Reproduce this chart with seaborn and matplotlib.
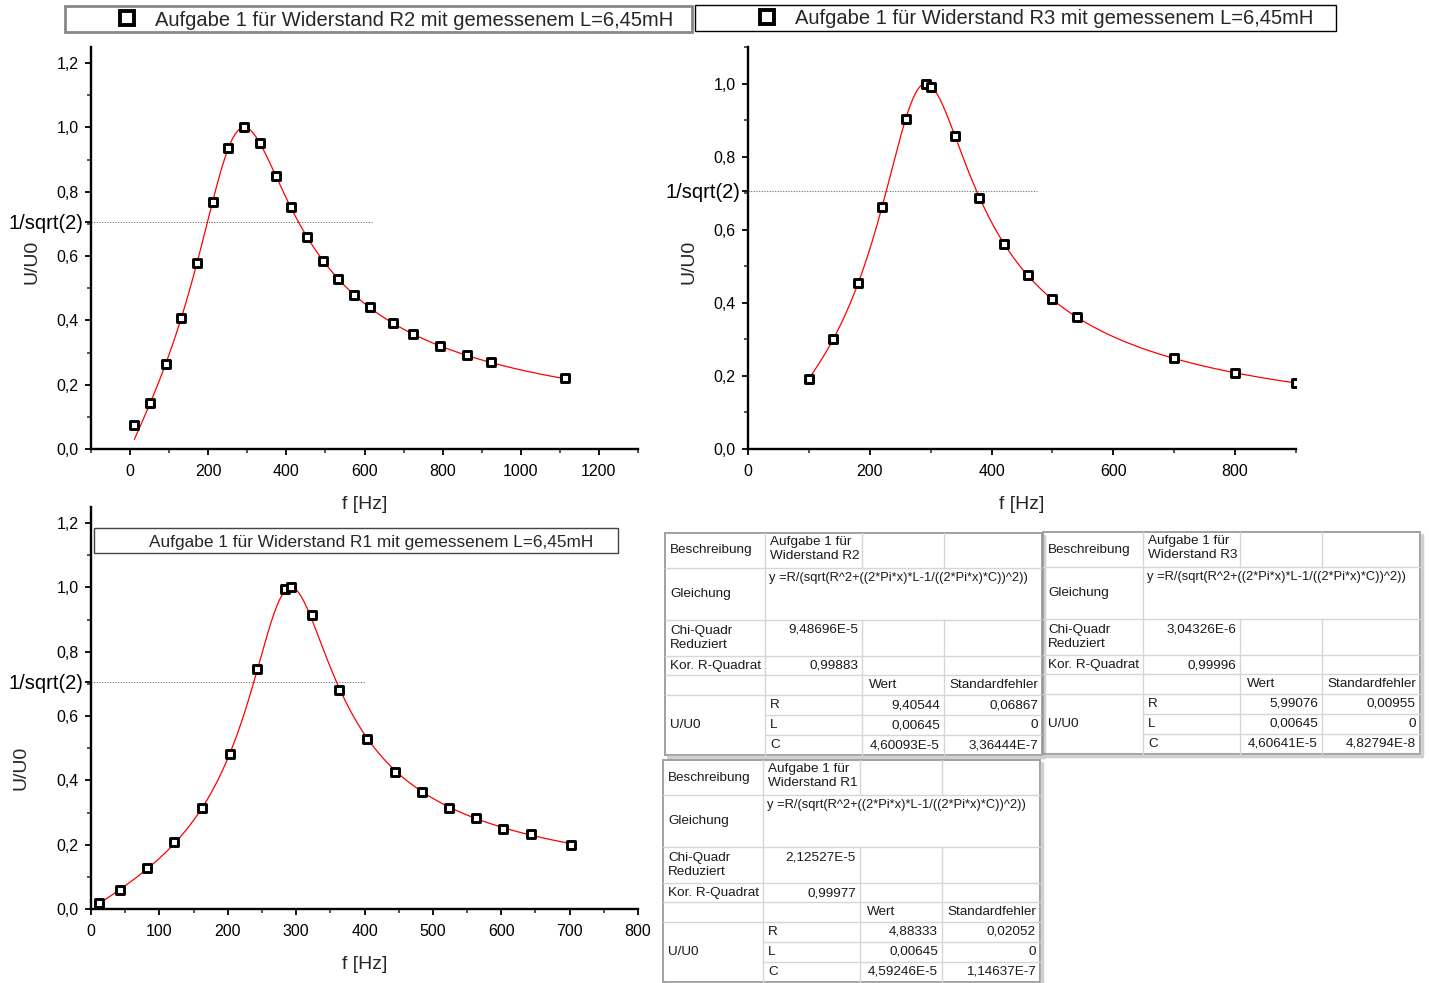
import numpy as np
import pandas as pd
import matplotlib
matplotlib.use("Agg")
import matplotlib.pyplot as plt
import matplotlib.ticker as mticker
from matplotlib.lines import Line2D
from matplotlib.patches import Rectangle
import seaborn as sns

f_r2 = [11, 51, 91, 131, 171, 211, 251, 292, 333, 373, 413, 453, 493, 533, 573, 613, 673, 723, 793, 863, 923, 1113]
u_r2 = [0.075, 0.143, 0.264, 0.407, 0.578, 0.767, 0.936, 1.0, 0.950, 0.849, 0.752, 0.658, 0.586, 0.528,
        0.480, 0.440, 0.391, 0.359, 0.320, 0.291, 0.270, 0.220]

f_r3 = [100, 140, 180, 220, 260, 292, 300, 340, 380, 420, 460, 500, 540, 700, 800, 900]
u_r3 = [0.192, 0.300, 0.453, 0.662, 0.904, 1.0, 0.991, 0.857, 0.687, 0.561, 0.475, 0.410, 0.362, 0.249, 0.209, 0.180]

f_r1 = [12, 42, 82, 122, 163, 203, 243, 283, 292, 323, 363, 404, 444, 484, 523, 563, 603, 643, 702]
u_r1 = [0.018, 0.060, 0.126, 0.208, 0.315, 0.481, 0.746, 0.994, 1.0, 0.914, 0.682, 0.528, 0.427, 0.363,
        0.315, 0.283, 0.249, 0.232, 0.199]

# fit results from the tables (R2, R3, R1)
fit_R = [9.40544, 5.99076, 4.88333]
fit_L = 0.00645
fit_C = [4.60093e-5, 4.60641e-5, 4.59246e-5]

plot_titles = ["Aufgabe 1 für Widerstand R2 mit gemessenem L=6,45mH",
               "Aufgabe 1 für Widerstand R3 mit gemessenem L=6,45mH",
               "Aufgabe 1 für Widerstand R1 mit gemessenem L=6,45mH"]

tab_names = ["Aufgabe 1 für\nWiderstand R2", "Aufgabe 1 für\nWiderstand R3", "Aufgabe 1 für\nWiderstand R1"]
tab_chi2 = ["9,48696E-5", "3,04326E-6", "2,12527E-5"]
tab_adjr2 = ["0,99883", "0,99996", "0,99977"]
tab_R = ["9,40544", "5,99076", "4,88333"]
tab_R_err = ["0,06867", "0,00955", "0,02052"]
tab_L = ["0,00645", "0,00645", "0,00645"]
tab_L_err = ["0", "0", "0"]
tab_C = ["4,60093E-5", "4,60641E-5", "4,59246E-5"]
tab_C_err = ["3,36444E-7", "4,82794E-8", "1,14637E-7"]
equation = "y =R/(sqrt(R^2+((2*Pi*x)*L-1/((2*Pi*x)*C))^2))"

sns.set_style("ticks")
plt.rcParams['font.family'] = ['Liberation Sans', 'DejaVu Sans']

W, H = 1429, 983
fig = plt.figure(figsize=(W / 100, H / 100), dpi=100)


def px_axes(left, top, right, bottom):
    return fig.add_axes([left / W, 1 - bottom / H, (right - left) / W, (bottom - top) / H])


def resonance(f, R, L, C):
    w = 2 * np.pi * f
    return R / np.sqrt(R ** 2 + (w * L - 1 / (w * C)) ** 2)


def comma(v, pos=None):
    return f"{v:.1f}".replace(".", ",")


inv_sqrt2 = 1 / np.sqrt(2)

panels = [
    # axes box px, xlim, ylim, x major, x minor, data, fit index, end of dotted line, label pos
    dict(box=(91, 47, 638, 449), xlim=(-100, 1300), ylim=(0, 1.25), xmaj=200, xmin=100,
         f=f_r2, u=u_r2, k=0, line_end=620, ylab=(-0.092, 0.465)),
    dict(box=(748, 47, 1296, 449), xlim=(0, 900), ylim=(0, 1.1), xmaj=200, xmin=100,
         f=f_r3, u=u_r3, k=1, line_end=475, ylab=(-0.092, 0.465)),
    dict(box=(91, 507, 638, 909), xlim=(0, 800), ylim=(0, 1.25), xmaj=100, xmin=50,
         f=f_r1, u=u_r1, k=2, line_end=400, ylab=(-0.112, 0.35)),
]

for p in panels:
    ax = px_axes(*p["box"])
    ax.set_facecolor("none")
    k = p["k"]
    fx = np.linspace(p["f"][0], p["f"][-1], 800)
    fit_df = pd.DataFrame({"f": fx, "u": resonance(fx, fit_R[k], fit_L, fit_C[k])})
    sns.lineplot(data=fit_df, x="f", y="u", color="red", linewidth=0.9, ax=ax, zorder=2)
    sns.scatterplot(x=p["f"], y=p["u"], marker="s", s=28, color="white", edgecolor="black",
                    linewidth=2.1, ax=ax, zorder=3)
    ax.hlines(inv_sqrt2, p["xlim"][0], p["line_end"], colors="#666666",
              linestyles=(0, (1, 1.4)), linewidth=0.8, zorder=1)
    ax.set_xlim(*p["xlim"])
    ax.set_ylim(*p["ylim"])
    sns.despine(ax=ax)
    for s in ("left", "bottom"):
        ax.spines[s].set_linewidth(1.7)
        ax.spines[s].set_color("black")

    yt = list(np.arange(0, p["ylim"][1] + 0.001, 0.2)) + [inv_sqrt2]
    yt.sort()
    ax.set_yticks(yt)
    ax.set_yticklabels(["1/sqrt(2)" if abs(v - inv_sqrt2) < 1e-6 else comma(v) for v in yt])
    ax.yaxis.set_minor_locator(mticker.MultipleLocator(0.1))
    ax.xaxis.set_major_locator(mticker.MultipleLocator(p["xmaj"]))
    ax.xaxis.set_minor_locator(mticker.MultipleLocator(p["xmin"]))
    ax.xaxis.set_major_formatter(mticker.FuncFormatter(lambda v, pos: f"{v:.0f}"))
    ax.tick_params(which="major", direction="out", length=4, width=1.3, labelsize=11.5, pad=5,
                   colors="black")
    ax.tick_params(axis="x", which="major", pad=7)
    ax.tick_params(which="minor", direction="out", length=3, width=1.1)
    for tick in ax.yaxis.get_major_ticks():
        if tick.label1.get_text() == "1/sqrt(2)":
            tick.label1.set_fontsize(14.5)
            tick.set_pad(1.5)

    ax.set_xlabel("f [Hz]", fontsize=14)
    ax.set_ylabel("U/U0", fontsize=14)
    ax.xaxis.set_label_coords(0.5, -0.118)
    ax.yaxis.set_label_coords(*p["ylab"])

# legend boxes above the two top panels
legend_boxes = [(65, 6, 692, 32, 395, "#888888", 2.0), (695, 5, 1336, 31, 1035, "black", 1.0)]
for i, (x0, y0, x1, y1, cx, ec, lw) in enumerate(legend_boxes):
    fig.add_artist(Rectangle((x0 / W, 1 - y1 / H), (x1 - x0) / W, (y1 - y0) / H,
                             transform=fig.transFigure, fill=False, edgecolor=ec, linewidth=lw))
    handle = Line2D([], [], marker="s", linestyle="", markersize=9.5, markerfacecolor="white",
                    markeredgecolor="black", markeredgewidth=2.8)
    fig.legend(handles=[handle], labels=[plot_titles[i]], loc="center",
               bbox_to_anchor=(cx / W, 1 - (y0 + y1 + 2) / 2 / H), frameon=False, fontsize=14.5,
               handlelength=1.0, handletextpad=0.9, borderpad=0, borderaxespad=0)

# title box of the lower panel
fig.add_artist(Rectangle((94 / W, 1 - 553 / H), 524 / W, 25 / H, transform=fig.transFigure,
                         fill=False, edgecolor="#444444", linewidth=1.0))
fig.text(371 / W, 1 - 542 / H, plot_titles[2], ha="center", va="center", fontsize=12.4)

# fit result tables
col_x = [0, 100, 197, 279, 377]
row_y = [0, 35, 87, 123, 142, 162, 182, 202, 222]
grid_c = "#d6d6d6"
txt_kw = dict(fontsize=9.7, color="#1a1a1a", clip_on=False)


def draw_table(left, top, k):
    tw, th = col_x[-1], row_y[-1]
    tax = px_axes(left, top, left + tw, top + th)
    tax.set_xlim(0, tw)
    tax.set_ylim(th, 0)
    tax.axis("off")
    # grid
    for y in row_y[1:6]:
        tax.plot([0, tw], [y, y], color=grid_c, lw=1.0, clip_on=False)
    for y in row_y[6:8]:
        tax.plot([col_x[1], tw], [y, y], color=grid_c, lw=1.0, clip_on=False)
    tax.plot([col_x[1], col_x[1]], [0, th], color=grid_c, lw=1.0, clip_on=False)
    for x in col_x[2:4]:
        tax.plot([x, x], [0, row_y[1]], color=grid_c, lw=1.0, clip_on=False)
        tax.plot([x, x], [row_y[2], th], color=grid_c, lw=1.0, clip_on=False)
    # border with shadow
    tax.plot([tw + 2, tw + 2], [3, th + 2], color="#d0d0d0", lw=2.5, clip_on=False)
    tax.plot([3, tw + 2], [th + 2, th + 2], color="#d0d0d0", lw=2.5, clip_on=False)
    tax.add_patch(Rectangle((0, 0), tw, th, fill=False, edgecolor="#9a9a9a", lw=1.3, clip_on=False))

    pad_l, pad_r = 5, 4
    tax.text(pad_l, 17.5, "Beschreibung", va="center", **txt_kw)
    tax.text(col_x[1] + pad_l, 16, tab_names[k], va="center", linespacing=1.3, **txt_kw)
    tax.text(pad_l, 61, "Gleichung", va="center", **txt_kw)
    tax.text(col_x[1] + 4, 45, equation, va="center", **{**txt_kw, "fontsize": 9.3})
    tax.text(pad_l, 105, "Chi-Quadr\nReduziert", va="center", linespacing=1.3, **txt_kw)
    tax.text(col_x[2] - pad_r, 97, tab_chi2[k], va="center", ha="right", **txt_kw)
    tax.text(pad_l, 133, "Kor. R-Quadrat", va="center", **txt_kw)
    tax.text(col_x[2] - pad_r, 133, tab_adjr2[k], va="center", ha="right", **txt_kw)
    tax.text(col_x[2] + 7, 152, "Wert", va="center", **txt_kw)
    tax.text(col_x[3] + pad_l, 152, "Standardfehler", va="center", **txt_kw)
    tax.text(pad_l, 192, "U/U0", va="center", **txt_kw)
    params = [("R", tab_R[k], tab_R_err[k]), ("L", tab_L[k], tab_L_err[k]), ("C", tab_C[k], tab_C_err[k])]
    for j, (name, val, err) in enumerate(params):
        yc = (row_y[5 + j] + row_y[6 + j]) / 2
        tax.text(col_x[1] + pad_l, yc, name, va="center", **txt_kw)
        tax.text(col_x[3] - pad_r, yc, val, va="center", ha="right", **txt_kw)
        tax.text(col_x[4] - pad_r, yc, err, va="center", ha="right", **txt_kw)


draw_table(665, 533, 0)
draw_table(1043, 532, 1)
draw_table(663, 760, 2)

fig.savefig("out.png", dpi=100, facecolor="white")
